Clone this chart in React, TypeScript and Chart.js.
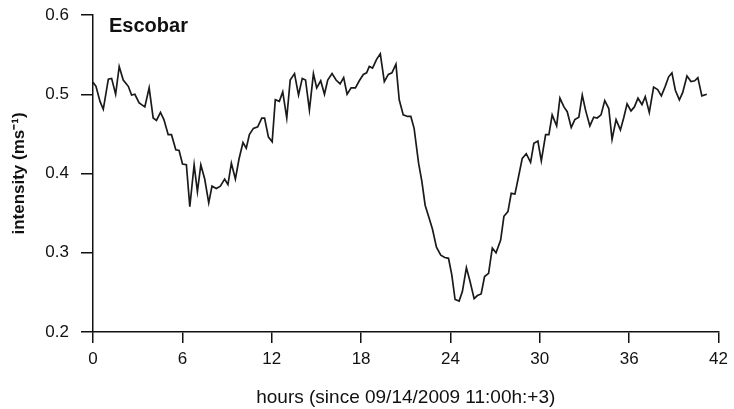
import React, { useEffect, useRef } from "react";
import { Chart, registerables } from "chart.js";

Chart.register(...registerables);

const hours = [
  0, 0.2, 0.47, 0.69, 1.03, 1.25, 1.52, 1.76, 2.03, 2.37, 2.59, 2.81, 3.1, 3.48, 3.77, 4.04, 4.26, 4.53, 4.76,
  5.05, 5.27, 5.56, 5.78, 6.01, 6.27, 6.5, 6.79, 7.01, 7.24, 7.5, 7.77, 7.99, 8.28, 8.55, 8.84, 9.06, 9.29, 9.56,
  9.8, 10.07, 10.29, 10.5, 10.77, 11.06, 11.33, 11.52, 11.78, 12.03, 12.24, 12.51, 12.74, 13.01, 13.24, 13.53,
  13.8, 14.05, 14.27, 14.53, 14.8, 15.02, 15.29, 15.54, 15.76, 16.05, 16.32, 16.59, 16.83, 17.06, 17.33, 17.62,
  17.88, 18.15, 18.37, 18.55, 18.77, 19.04, 19.29, 19.56, 19.83, 20.07, 20.34, 20.56, 20.83, 21.12, 21.34, 21.56,
  21.86, 22.08, 22.3, 22.53, 22.79, 23.06, 23.35, 23.62, 23.87, 24.09, 24.31, 24.58, 24.8, 25.07, 25.3, 25.59,
  25.81, 26.06, 26.29, 26.56, 26.81, 27.06, 27.37, 27.59, 27.86, 28.08, 28.33, 28.55, 28.82, 29.09, 29.38, 29.6,
  29.87, 30.1, 30.39, 30.61, 30.83, 31.13, 31.35, 31.62, 31.84, 32.11, 32.35, 32.62, 32.85, 33.07, 33.36, 33.62,
  33.85, 34.11, 34.36, 34.63, 34.85, 35.12, 35.41, 35.63, 35.86, 36.12, 36.35, 36.59, 36.86, 37.08, 37.35, 37.64,
  37.91, 38.16, 38.42, 38.65, 38.87, 39.1, 39.37, 39.59, 39.88, 40.15, 40.4, 40.61, 40.88, 41.21,
];

const intensity = [
  0.515, 0.51, 0.491, 0.481, 0.519, 0.52, 0.5, 0.535, 0.518, 0.51, 0.499, 0.5, 0.489, 0.484, 0.508, 0.47, 0.467,
  0.477, 0.468, 0.449, 0.449, 0.43, 0.429, 0.412, 0.411, 0.358, 0.411, 0.377, 0.411, 0.393, 0.363, 0.384, 0.381,
  0.384, 0.393, 0.386, 0.413, 0.393, 0.418, 0.439, 0.432, 0.449, 0.457, 0.459, 0.47, 0.47, 0.446, 0.44, 0.493,
  0.491, 0.503, 0.47, 0.518, 0.526, 0.499, 0.52, 0.518, 0.48, 0.526, 0.508, 0.517, 0.5, 0.518, 0.526, 0.518,
  0.513, 0.521, 0.5, 0.508, 0.508, 0.517, 0.525, 0.527, 0.535, 0.533, 0.544, 0.551, 0.516, 0.525, 0.527, 0.538,
  0.493, 0.474, 0.472, 0.472, 0.457, 0.413, 0.39, 0.36, 0.346, 0.33, 0.307, 0.297, 0.294, 0.293, 0.272, 0.241,
  0.239, 0.251, 0.281, 0.265, 0.242, 0.246, 0.248, 0.27, 0.274, 0.306, 0.3, 0.316, 0.346, 0.352, 0.375, 0.374,
  0.394, 0.419, 0.425, 0.414, 0.438, 0.441, 0.416, 0.449, 0.449, 0.474, 0.46, 0.495, 0.484, 0.478, 0.458, 0.468,
  0.471, 0.499, 0.48, 0.46, 0.471, 0.47, 0.474, 0.492, 0.482, 0.443, 0.468, 0.455, 0.47, 0.488, 0.479, 0.484,
  0.495, 0.487, 0.497, 0.477, 0.509, 0.506, 0.498, 0.51, 0.522, 0.527, 0.505, 0.493, 0.502, 0.523, 0.516, 0.517,
  0.521, 0.498, 0.5,
];

const xTitle = "hours (since 09/14/2009 11:00h:+3)";
const yTitle = "intensity (ms\u207B\u00B9)";
const panelLabel = "Escobar";

const SANS = '"Liberation Sans", Arial, sans-serif';
const INK = "#111111";

export default function App() {
  const ref = useRef<HTMLCanvasElement | null>(null);

  useEffect(() => {
    const canvas = ref.current;
    if (!canvas) return;
    const labelPlugin = {
      id: "panelLabel",
      afterDraw(chart: any) {
        const { ctx, chartArea } = chart;
        ctx.save();
        ctx.font = 'bold 20px "Liberation Sans", Arial, sans-serif';
        ctx.fillStyle = INK;
        ctx.textAlign = "left";
        ctx.textBaseline = "alphabetic";
        ctx.fillText(panelLabel, chartArea.left + 16, chartArea.top + 17);
        ctx.restore();
      },
    };
    const chart = new Chart(canvas, {
      type: "line",
      data: {
        datasets: [
          {
            data: hours.map((h, i) => ({ x: h, y: intensity[i] })),
            borderColor: "#1a1a1a",
            borderWidth: 1.7,
            pointRadius: 0,
            tension: 0,
            fill: false,
          },
        ],
      },
      options: {
        animation: false,
        responsive: false,
        layout: { padding: { top: 15, right: 12, left: 0, bottom: 0 } },
        plugins: {
          legend: { display: false },
          tooltip: { enabled: false },
        },
        scales: {
          x: {
            type: "linear",
            min: 0,
            max: 42,
            afterFit: (s: any) => {
              s.height = 77;
            },
            ticks: {
              stepSize: 6,
              color: INK,
              padding: 6,
              maxRotation: 0,
              font: { family: SANS, size: 17 },
            },
            grid: {
              display: true,
              drawOnChartArea: false,
              drawTicks: true,
              tickLength: 11,
              color: INK,
              lineWidth: 1.5,
            },
            border: { display: true, color: INK, width: 1.5 },
            title: {
              display: true,
              text: xTitle,
              color: INK,
              font: { family: SANS, size: 19 },
              padding: { top: 0, bottom: 0 },
            },
          },
          y: {
            min: 0.2,
            max: 0.6,
            afterFit: (s: any) => {
              s.width = 93;
              s.paddingTop = 0;
              s.paddingBottom = 0;
            },
            ticks: {
              stepSize: 0.1,
              color: INK,
              padding: 12,
              font: { family: SANS, size: 17 },
              callback: (v: any) => Number(v).toFixed(1),
            },
            grid: {
              display: true,
              drawOnChartArea: false,
              drawTicks: true,
              tickLength: 12,
              color: INK,
              lineWidth: 1.5,
            },
            border: { display: true, color: INK, width: 1.5 },
            title: {
              display: true,
              text: yTitle,
              color: INK,
              font: { family: SANS, size: 17, weight: "bold" },
              padding: { top: 9, bottom: 0 },
            },
          },
        },
      },
      plugins: [labelPlugin],
    });
    return () => chart.destroy();
  }, []);

  return (
    <div style={{ position: "absolute", left: 0, top: 0, width: 734, height: 409, background: "#fff" }}>
      <canvas ref={ref} width={734} height={409} style={{ display: "block" }} />
    </div>
  );
}
